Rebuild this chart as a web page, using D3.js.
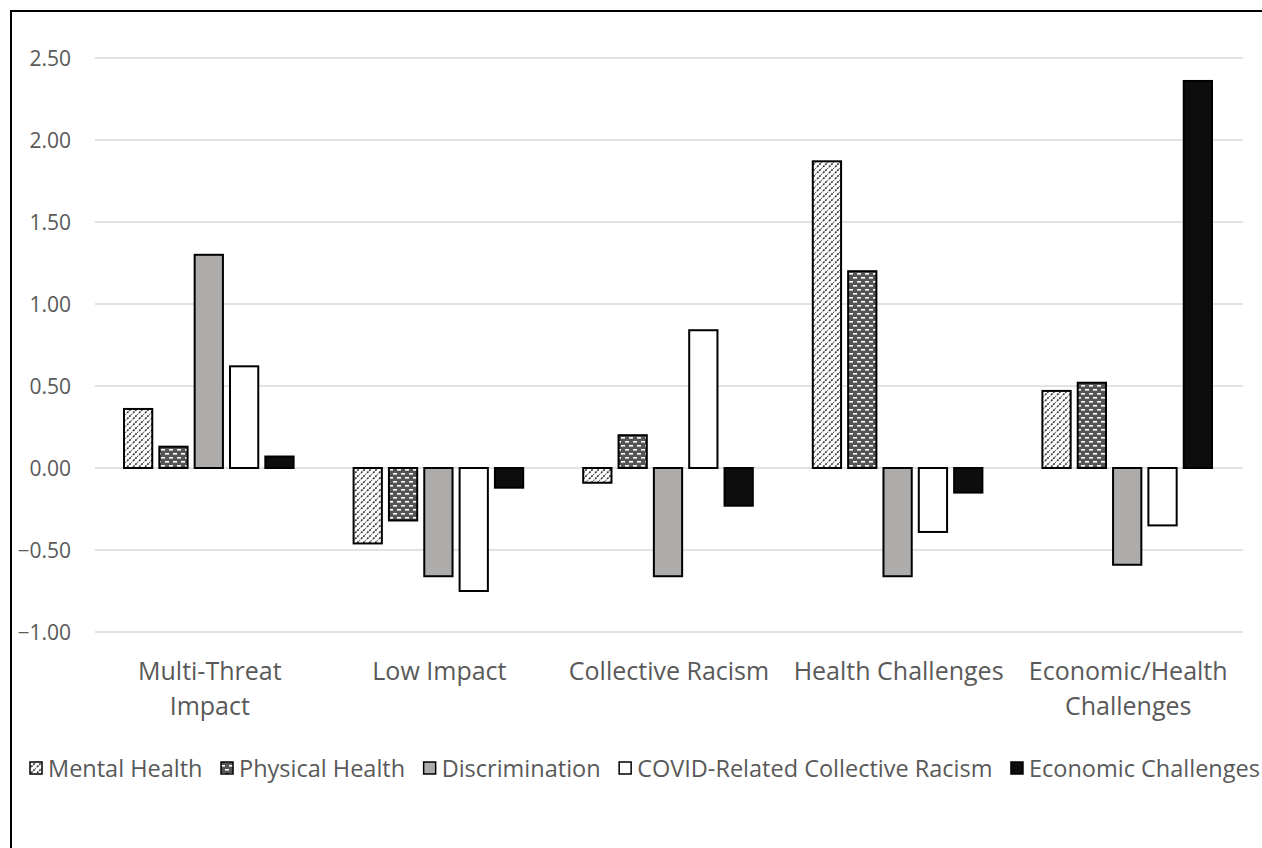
<!DOCTYPE html>
<html><head><meta charset="utf-8">
<script src="https://cdn.jsdelivr.net/npm/d3@7"></script>
<style>body{margin:0;background:#fff}svg{display:block}</style>
</head><body>
<svg id="c" width="1262" height="848"></svg>
<script>
const categories = [["Multi-Threat","Impact"],["Low Impact"],["Collective Racism"],["Health Challenges"],["Economic/Health","Challenges"]];
const seriesNames = ["Mental Health","Physical Health","Discrimination","COVID-Related Collective Racism","Economic Challenges"];
const mentalHealth   = [0.36, -0.46, -0.09, 1.87, 0.47];
const physicalHealth = [0.13, -0.32, 0.20, 1.20, 0.52];
const discrimination = [1.30, -0.66, -0.66, -0.66, -0.59];
const covidRacism    = [0.62, -0.75, 0.84, -0.39, -0.35];
const economic       = [0.07, -0.12, -0.23, -0.15, 2.36];
const yTicks = [-1.0, -0.5, 0, 0.5, 1.0, 1.5, 2.0, 2.5];

const series = [mentalHealth, physicalHealth, discrimination, covidRacism, economic];
const fills = ["url(#pMental)","url(#pPhys)","#aeabab","#ffffff","#0d0d0d"];
const FONT = "'Open Sans', sans-serif";
const TXT = "#595959";

const svg = d3.select("#c");
const defs = svg.append("defs");
const pm = defs.append("pattern").attr("id","pMental").attr("patternUnits","userSpaceOnUse")
  .attr("width",6).attr("height",6);
pm.append("rect").attr("width",6).attr("height",6).attr("fill","#fff");
pm.append("path").attr("d","M-1,7 L7,-1 M-4,4 L4,-4 M2,10 L10,2").attr("stroke","#333")
  .attr("stroke-width",1.6).attr("stroke-dasharray","2 1");
const pp = defs.append("pattern").attr("id","pPhys").attr("patternUnits","userSpaceOnUse")
  .attr("width",8).attr("height",8);
pp.append("rect").attr("width",8).attr("height",8).attr("fill","#555");
pp.append("rect").attr("x",1).attr("y",1).attr("width",4).attr("height",1.6).attr("fill","#fff");
pp.append("rect").attr("x",5).attr("y",5).attr("width",4).attr("height",1.6).attr("fill","#fff");
pp.append("rect").attr("x",-3).attr("y",5).attr("width",4).attr("height",1.6).attr("fill","#fff");

svg.append("rect").attr("x",11).attr("y",11).attr("width",1300).attr("height",900)
  .attr("fill","none").attr("stroke","#000").attr("stroke-width",2);

const plotL = 95, plotR = 1243;
const y = d3.scaleLinear().domain([-1, 2.5]).range([632, 58]);
const x0 = d3.scaleBand().domain(d3.range(categories.length)).range([plotL, plotR]).paddingInner(0).paddingOuter(0);
const x1 = d3.scaleBand().domain(d3.range(series.length)).range([29, x0.bandwidth()-31]).paddingInner(0.2).paddingOuter(0);

svg.append("g").selectAll("line").data(yTicks).join("line")
  .attr("x1",plotL).attr("x2",plotR).attr("y1",d=>y(d)).attr("y2",d=>y(d))
  .attr("stroke","#d9d9d9").attr("stroke-width",1.5);

const yAxis = d3.axisLeft(y).tickValues(yTicks).tickFormat(d3.format(".2f")).tickSize(0).tickPadding(0);
const ya = svg.append("g").attr("transform","translate(71,0)").call(yAxis);
ya.select(".domain").remove();
ya.selectAll("text").attr("font-family",FONT).attr("font-size",21).attr("fill",TXT).attr("dy","0.36em");

const g = svg.append("g");
series.forEach((vals, si) => {
  g.append("g").selectAll("rect").data(vals).join("rect")
    .attr("x",(d,i)=>x0(i)+x1(si))
    .attr("width",x1.bandwidth())
    .attr("y",d=>y(Math.max(0,d)))
    .attr("height",d=>Math.abs(y(d)-y(0)))
    .attr("fill",fills[si]).attr("stroke","#000").attr("stroke-width",2);
});

const cl = svg.append("g");
categories.forEach((lines,i)=>{
  const t = cl.append("text").attr("text-anchor","middle").attr("font-family",FONT)
    .attr("font-size",25).attr("fill",TXT);
  lines.forEach((ln,j)=>t.append("tspan").attr("x",x0(i)+x0.bandwidth()/2).attr("y",680+j*35).text(ln));
});

const lg = svg.append("g");
let lx = 30;
const ly = 777;
seriesNames.forEach((n,i)=>{
  lg.append("rect").attr("x",lx).attr("y",ly-15).attr("width",12).attr("height",12)
    .attr("fill",fills[i]).attr("stroke","#000").attr("stroke-width",1.5);
  const t = lg.append("text").attr("x",lx+18).attr("y",ly).attr("font-family",FONT)
    .attr("font-size",23.5).attr("fill",TXT).text(n);
  lx += 18 + t.node().getComputedTextLength() + 18.5;
});
</script>
</body></html>
